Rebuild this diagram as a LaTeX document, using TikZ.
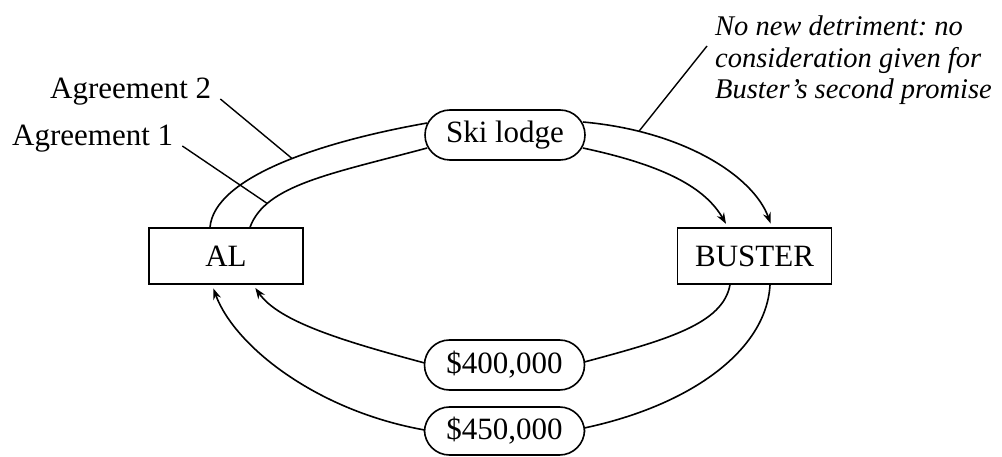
\documentclass[tikz,border=0pt]{standalone}
\usepackage{fontspec}
\setmainfont{Liberation Serif}
\usetikzlibrary{arrows.meta}
\frenchspacing
\begin{document}
\begin{tikzpicture}[x=1pt,y=-1pt,
  txt/.style={font=\fontsize{31}{32}\selectfont, inner sep=0pt},
  party/.style={txt, draw, line width=1.4pt, minimum width=154pt, minimum height=56pt},
  item/.style={txt, draw, line width=1.6pt, rounded corners=25pt, minimum width=160pt, minimum height=50pt},
  flow/.style={line width=1.6pt},
  arr/.style={flow, -{Stealth[length=11pt,width=8pt]}, shorten >=4pt},
  lead/.style={line width=1.4pt}
]
\useasboundingbox (0,0) rectangle (1002,457);
% note: y runs downwards, so polar control offsets use downward-positive angles

% parties and what passes between them
\node[party] (al) at (226,256) {AL};
\node[party] (buster) at (754.5,256) {BUSTER};
\node[item] (ski) at (505,135) {Ski lodge};
\node[item] (p400) at (504.5,365) {\$400,000};
\node[item, minimum height=48pt] (p450) at (504.5,431) {\$450,000};

% ski lodge going from Al to Buster (outer = agreement 2, inner = agreement 1)
\draw[flow] ([xshift=-16pt]al.north) .. controls +(-85:50) and +(-190:110) .. coordinate[pos=0.55] (a2) ([shift={(3,-12)}]ski.west);
\draw[flow] ([xshift=24pt]al.north) .. controls +(-70:45) and +(-195:100) .. coordinate[pos=0.22] (a1) ([shift={(3,13)}]ski.west);
\draw[arr] ([shift={(-3,-13)}]ski.east) .. controls +(5:100) and +(-110:55) .. coordinate[pos=0.2] (nd) ([xshift=17.5pt]buster.north);
\draw[arr] ([shift={(-3,13)}]ski.east) .. controls +(12:85) and +(-120:45) .. ([xshift=-26.5pt]buster.north);

% money going from Buster to Al
\draw[flow] ([xshift=-24.5pt]buster.south) .. controls +(100:40) and +(-15:85) .. ([shift={(-1,-3)}]p400.east);
\draw[arr] ([shift={(1,-2)}]p400.west) .. controls +(-165:85) and +(55:45) .. ([xshift=27pt]al.south);
\draw[flow] ([xshift=15.5pt]buster.south) .. controls +(93:65) and +(-12:110) .. ([shift={(-1,-3)}]p450.east);
\draw[arr] ([shift={(1,-1)}]p450.west) .. controls +(-170:110) and +(70:65) .. ([xshift=-14pt]al.south);

% labels and leaders
\node[txt, anchor=base west] (ag2) at (50,99) {Agreement 2};
\node[txt, anchor=base west] (ag1) at (12,146) {Agreement 1};
\draw[lead] ([xshift=9pt]ag2.base east) -- (a2);
\draw[lead] ([xshift=9pt]ag1.base east) -- (a1);

\node[txt, font=\fontsize{28.5}{31.5}\selectfont\itshape, align=left, anchor=north west] (note) at (715,16)
  {No new detriment: no\\consideration given for\\Buster’s second promise};
\coordinate (ntail) at ([shift={(-8,30)}]note.north west);
\draw[lead] (ntail) -- (nd);
\end{tikzpicture}
\end{document}
